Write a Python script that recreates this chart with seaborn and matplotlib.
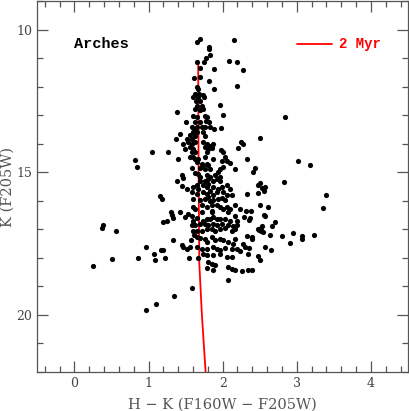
import numpy as np
import pandas as pd
import matplotlib
matplotlib.use("Agg")
import matplotlib.pyplot as plt
from matplotlib.ticker import MultipleLocator
import seaborn as sns

# ---- data: H-K colour and K magnitude of the stars ----
top_color = [1.69,1.65,1.82,1.82,2.15,1.83,1.78,1.75,1.66,2.08,2.20,1.70,1.88,2.28,1.70,1.62,1.82,2.19,1.65,1.67,1.88,
             1.63,1.68,1.74,1.60,1.67,1.75,1.69,1.64,1.65,1.72,1.63,1.69,1.74,1.96,1.38,2.00,1.60,1.65,1.76,1.79,1.51,1.63,1.69,1.78,1.81,2.84]
top_mag = [10.34,10.44,10.60,10.67,10.36,10.87,11.00,11.13,11.12,11.10,11.12,11.35,11.39,11.42,11.64,11.68,11.80,11.96,12.00,12.08,12.08,
           12.25,12.25,12.28,12.37,12.37,12.35,12.49,12.49,12.66,12.66,12.78,12.80,12.78,12.63,12.89,12.99,13.03,13.07,13.01,13.07,13.24,13.24,13.24,13.19,13.24,13.07]

mid_color = [1.582,1.627,1.658,1.717,1.761,1.829,1.887,1.973,1.604,1.649,1.739,1.559,1.627,1.761,1.425,1.371,1.514,1.582,2.503,2.247,
             1.469,1.537,1.582,1.627,1.739,1.784,1.829,1.874,1.492,1.559,1.604,1.761,1.806,1.851,1.977,2.211,2.278,1.267,1.582,1.627,1.784,2.008,
             1.402,1.559,1.604,1.627,1.672,1.761,1.865,2.031,2.053,2.098,2.332,1.649,1.717,1.784,1.806,1.739,1.986,1.582,1.694,1.761,1.829,1.964,2.008,2.166,2.435,
             1.447,1.469,1.627,1.672,1.694,1.784,1.829,1.896,1.941,1.964,1.380,1.694,1.761,1.806,1.874,1.919,1.964,2.413,
             1.447,1.514,1.604,1.649,1.672,1.739,1.784,1.806,1.874,1.941,1.986,2.053,2.098,1.155,1.582,1.649,1.739,1.784,1.829,1.874,1.919,2.008,2.053,2.121,2.323,
             1.604,1.694,1.761,1.806,1.829,1.874,1.941,1.986,2.031,1.717,1.784,1.851,1.919,1.964,2.053,2.166,1.595,1.627,1.851,2.008,2.098,2.233,2.503,2.615,1.177,
             2.503,2.47,2.53,2.57,2.56,2.47,
             1.043,0.818,0.841,3.010,3.177,2.831,3.392]
mid_mag = [13.42,13.48,13.40,13.42,13.42,13.42,13.48,13.45,13.59,13.59,13.59,13.69,13.71,13.71,13.65,13.83,13.83,13.83,13.79,13.92,
           14.00,13.94,14.00,13.94,13.94,14.00,14.06,14.00,14.18,14.12,14.18,14.12,14.18,14.15,14.20,14.15,14.00,14.27,14.29,14.27,14.29,14.29,
           14.53,14.47,14.47,14.53,14.53,14.47,14.53,14.47,14.59,14.68,14.53,14.64,14.70,14.70,14.76,14.82,14.59,14.85,14.85,14.88,14.88,14.88,14.82,14.88,14.84,
           15.11,15.20,15.02,15.05,15.17,15.11,15.17,15.11,14.99,15.17,15.29,15.29,15.29,15.23,15.29,15.23,15.32,14.99,
           15.48,15.58,15.52,15.44,15.58,15.46,15.52,15.40,15.52,15.58,15.52,15.46,15.58,15.83,15.69,15.75,15.69,15.75,15.64,15.81,15.69,15.69,15.79,15.81,15.75,
           15.93,15.98,15.93,15.87,16.02,15.98,15.93,15.90,15.98,16.16,16.22,16.16,16.14,16.22,16.22,16.16,16.22,16.28,16.34,16.28,16.28,16.30,16.16,16.22,15.95,
           15.36,15.45,15.54,15.50,15.64,15.73,
           14.29,14.58,14.80,14.62,14.73,15.34,15.78]

low_color = [1.302,1.424,1.536,1.715,1.850,2.066,
             1.190,1.244,1.311,1.334,1.491,1.581,1.603,1.648,1.738,1.783,1.828,1.873,1.918,1.962,2.030,2.097,2.164,2.187,
             1.581,1.626,1.693,1.760,1.805,1.873,1.918,1.985,2.075,2.142,2.196,
             1.603,1.648,1.715,1.783,1.850,1.895,1.962,2.030,2.120,2.164,
             1.334,1.446,1.469,1.567,1.612,1.648,1.693,1.760,1.783,1.850,1.895,1.962,2.007,2.075,2.142,2.164,
             1.513,1.558,1.648,1.715,1.783,1.873,1.918,1.962,2.030,2.120,2.187,
             1.549,1.662,1.738,1.783,1.873,1.962,2.052,2.120,
             1.806,1.783,1.850,1.873,1.895,2.075,2.120,2.164,
             2.066,1.581,
             0.391,0.368,0.562,0.961,1.073,1.087,1.168,1.199,1.221,0.862,0.503,
             0.248,1.344,1.097,0.962]
low_mag = [16.39,16.39,16.45,16.39,16.39,16.39,
           16.74,16.72,16.51,16.60,16.57,16.53,16.69,16.60,16.69,16.63,16.63,16.57,16.63,16.63,16.65,16.72,16.53,16.72,
           16.86,16.84,16.80,16.80,16.86,16.80,16.84,16.80,16.86,16.88,16.84,
           17.04,17.07,17.04,16.98,16.98,17.04,17.00,16.95,17.04,17.00,
           17.39,17.54,17.62,17.39,17.21,17.27,17.30,17.33,17.44,17.27,17.39,17.33,17.39,17.44,17.50,17.33,
           17.68,17.62,17.62,17.68,17.68,17.62,17.68,17.74,17.65,17.68,17.68,
           18.00,18.00,17.85,17.91,17.91,17.85,17.97,17.97,
           18.14,18.35,18.20,18.44,18.26,18.32,18.38,18.44,
           18.76,19.05,
           16.84,16.95,17.07,17.62,17.85,18.08,17.71,17.74,17.99,17.99,18.03,
           18.28,19.33,19.62,19.81]

red_color = [2.32,2.38,2.56,2.57,2.29,2.37,2.36,3.356,2.71,2.67,2.53,2.52,2.47,2.49,2.52,2.55,
             2.33,2.39,2.40,2.64,2.795,2.95,3.065,3.07,3.23,2.907,2.278,2.23,2.30,2.355,2.337,2.57,2.647,
             2.48,2.51,2.256,2.345,2.39]
red_mag = [16.34,16.36,16.48,16.52,16.57,16.61,16.66,16.25,16.75,16.87,16.88,16.95,16.99,17.03,17.06,17.09,
           17.23,17.27,17.35,17.21,17.25,17.12,17.23,17.35,17.18,17.48,17.50,17.77,17.62,17.65,17.86,17.62,17.74,
           17.95,18.09,18.46,18.44,18.44]

# 2 Myr isochrone
iso_color = [1.670, 1.675, 1.685, 1.720, 1.770]
iso_mag = [11.10, 15.00, 18.20, 20.00, 22.00]

stars = pd.DataFrame({
    "color": top_color + mid_color + low_color + red_color,
    "mag": top_mag + mid_mag + low_mag + red_mag,
})
iso = pd.DataFrame({"color": iso_color, "mag": iso_mag})

sns.set_style("ticks")
plt.rcParams["font.family"] = ["DejaVu Serif"]

fig = plt.figure(figsize=(4.09, 4.11), dpi=100)
ax = fig.add_axes([0.0912, 0.095, 0.9064, 0.902])

sns.scatterplot(data=stars, x="color", y="mag", ax=ax, color="black", s=14,
                linewidth=0, legend=False, zorder=3)
sns.lineplot(data=iso, x="color", y="mag", ax=ax, sort=False, color="red",
             linewidth=1.3, legend=False, zorder=2)

ax.set_xlim(-0.5, 4.5)
ax.set_ylim(22, 9)

gray = "#555555"
ax.xaxis.set_major_locator(MultipleLocator(1))
ax.xaxis.set_minor_locator(MultipleLocator(0.2))
ax.yaxis.set_major_locator(MultipleLocator(5))
ax.yaxis.set_minor_locator(MultipleLocator(1))
ax.tick_params(which="both", direction="in", top=True, right=True, color=gray,
               labelcolor="#444444", labelsize=9, width=0.9)
ax.tick_params(which="major", length=8)
ax.tick_params(which="minor", length=4)
for sp in ax.spines.values():
    sp.set_color(gray)
    sp.set_linewidth(0.9)

ax.set_xlabel("H − K (F160W − F205W)", fontsize=10.5, color="#555555", labelpad=6)
ax.set_ylabel("K (F205W)", fontsize=10.5, color="#555555")
ax.yaxis.set_label_coords(-0.06, 0.5)

ax.text(0.0, 10.5, "Arches", fontsize=11, fontweight="bold", family="Liberation Mono",
        color="black", va="center", ha="left")
ax.plot([3.0, 3.48], [10.5, 10.5], color="red", linewidth=1.3)
ax.text(3.57, 10.5, "2 Myr", fontsize=10, fontweight="bold", family="Liberation Mono",
        color="red", va="center", ha="left")

fig.savefig("out.png", dpi=100)
